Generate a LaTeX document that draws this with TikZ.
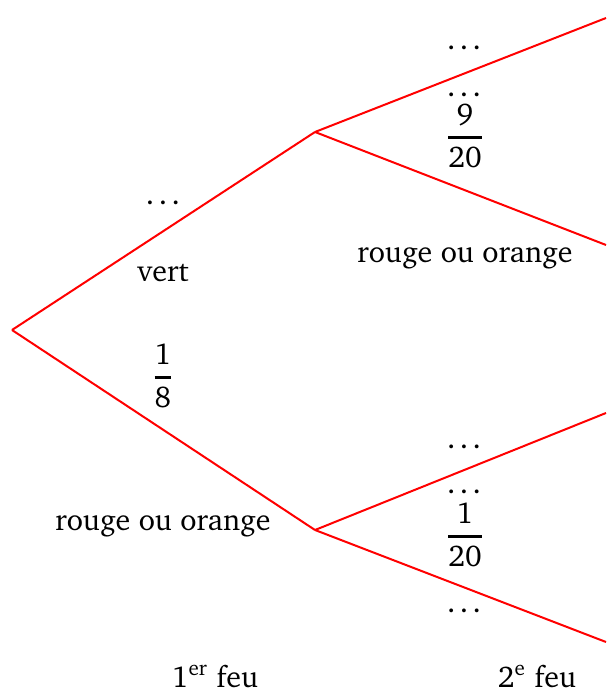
\documentclass[tikz,border=0pt]{standalone}
\usepackage[T1]{fontenc}
\IfFileExists{charter.sty}{\usepackage{charter}}{}
\newcommand{\myfrac}[2]{$\displaystyle{\mbox{#1}\above 1pt \mbox{#2}}$}
\newcommand{\mydots}{.\kern.15em.\kern.15em.}
\begin{document}
\begin{tikzpicture}[x=0.35pt,y=-0.35pt,
  every node/.style={font=\fontsize{10.5pt}{13pt}\selectfont},
  branch/.style={draw=red,line width=0.7pt},
  lbl/.style={inner sep=0pt,anchor=base},
  frac/.style={inner sep=0pt,anchor=center}]
\useasboundingbox (0,0) rectangle (606,689);
\coordinate (R) at (12,330);
\coordinate (A) at (315,132);
\coordinate (B) at (315,530);
\coordinate (A1) at (606,18);
\coordinate (A2) at (606,245);
\coordinate (B1) at (606,413);
\coordinate (B2) at (606,642);
\draw[branch] (R) -- (A);
\draw[branch] (R) -- (B);
\draw[branch] (A) -- (A1);
\draw[branch] (A) -- (A2);
\draw[branch] (B) -- (B1);
\draw[branch] (B) -- (B2);
% first level labels
\node[lbl] (d1) at (163,205) {\mydots};
\node[lbl] (v) at (163,282) {vert};
\node[frac] (f1) at (163,376) {\myfrac{1}{8}};
\node[lbl] (ro1) at (163,530) {rouge ou orange};
% upper second level
\node[lbl] (d2) at (464,50) {\mydots};
\node[lbl] (d3) at (464,97) {\mydots};
\node[frac] (f2) at (465,136) {\myfrac{9}{20}};
\node[lbl] (ro2) at (465,263) {rouge ou orange};
% lower second level
\node[lbl] (d4) at (464,448) {\mydots};
\node[lbl] (d5) at (464,493) {\mydots};
\node[frac] (f3) at (465,535) {\myfrac{1}{20}};
\node[lbl] (d6) at (464,612) {\mydots};
% bottom
\node[lbl] (t1) at (215,687) {1\textsuperscript{er} feu};
\node[lbl] (t2) at (537,687) {2\textsuperscript{e} feu};
\end{tikzpicture}
\end{document}
